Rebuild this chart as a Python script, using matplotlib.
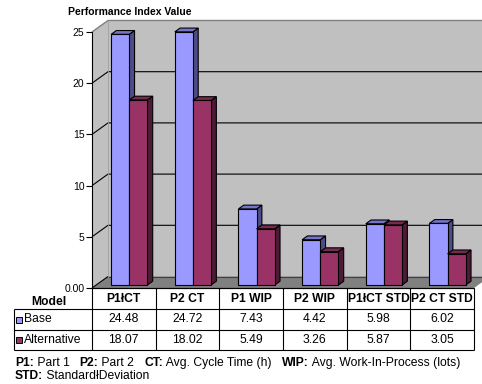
import matplotlib
matplotlib.use("Agg")
import matplotlib.pyplot as plt
from matplotlib.patches import Polygon, Rectangle
from matplotlib.lines import Line2D

# ---- data ----
categories = ["P1łCT", "P2 CT", "P1 WIP", "P2 WIP", "P1łCT STD", "P2 CT STD"]
series_names = ["Base", "Alternative"]
base_values = [24.48, 24.72, 7.43, 4.42, 5.98, 6.02]
alt_values = [18.07, 18.02, 5.49, 3.26, 5.87, 3.05]
y_ticks = [0, 5, 10, 15, 20, 25]
y_tick_labels = ["0.00", "5", "10", "15", "20", "25"]
title = "Performance Index Value"
row_header = "Model"
footnote_lines = [
    [("P1:", True), (" Part 1   ", False), ("P2:", True), (" Part 2   ", False),
     ("CT:", True), (" Avg. Cycle Time (h)   ", False),
     ("WIP:", True), (" Avg. Work-In-Process (lots)", False)],
    [("STD:", True), (" StandardłDeviation", False)],
]

# ---- style ----
plt.rcParams['font.family'] = ['Liberation Sans', 'DejaVu Sans']
face_cols = ["#9999FF", "#993366"]
side_cols = ["#4C4C86", "#4F1A35"]
top_cols = ["#7474C8", "#7A2852"]
wall_col = "#C0C0C0"
floor_col = "#808080"
TABLE_FS = 8.7

W, H = 482, 384
fig = plt.figure(figsize=(W / 100, H / 100), dpi=100)

X0, X1 = 92, 474      # front plane, left/right pixel columns
Y0, Y1 = 288, 32      # front plane, pixel rows of 0 and 25
ymax = 25
n = len(categories)
ax = fig.add_axes([X0 / W, 1 - Y0 / H, (X1 - X0) / W, (Y0 - Y1) / H])
ax.set_xlim(0, n)
ax.set_ylim(0, ymax)
ax.patch.set_visible(False)

px_x = (X1 - X0) / n
px_y = (Y0 - Y1) / ymax
DX = 16 / px_x        # depth offset in data units
DY = 11.5 / px_y


def add_poly(pts, fc, ec="none", lw=0.0, z=1):
    ax.add_patch(Polygon(pts, closed=True, facecolor=fc, edgecolor=ec,
                         linewidth=lw, clip_on=False, zorder=z,
                         joinstyle="miter"))


def add_line(xs, ys, color="black", lw=0.8, z=2):
    ax.add_line(Line2D(xs, ys, color=color, linewidth=lw, clip_on=False,
                       zorder=z, solid_capstyle="butt"))


# walls and floor
add_poly([(DX, DY), (n + DX, DY), (n + DX, ymax + DY), (DX, ymax + DY)], wall_col)
add_poly([(0, 0), (DX, DY), (DX, ymax + DY), (0, ymax)], wall_col)
add_poly([(0, 0), (n, 0), (n + DX, DY), (DX, DY)], floor_col)

# gridlines on side and back walls
for v in y_ticks:
    if v == ymax:
        add_line([0, DX, n + DX], [v, v + DY, v + DY], color="#808080", lw=1.0)
    elif v == 0:
        add_line([0, DX], [0, DY], color="black", lw=0.8)
        add_line([DX, n + DX], [DY, DY], color="#404040", lw=0.8)
    else:
        add_line([0, DX, n + DX], [v, v + DY, v + DY], color="black", lw=0.8)
add_line([DX, DX], [DY, ymax + DY], color="#A0A0A0", lw=0.6)
add_line([0, n], [0, 0], color="black", lw=0.8, z=6)

# 3D bars
center, bw = 0.52, 0.285
f0, f1 = 0.26, 0.59
for i in range(n):
    for j, vals in enumerate([base_values, alt_values]):
        v = vals[i]
        xl = i + center - bw + j * bw
        xr = xl + bw
        a0x, a0y = f0 * DX, f0 * DY
        a1x, a1y = f1 * DX, f1 * DY
        add_poly([(xr + a0x, a0y), (xr + a1x, a1y), (xr + a1x, v + a1y), (xr + a0x, v + a0y)],
                 side_cols[j], "black", 0.8, 3)
        add_poly([(xl + a0x, v + a0y), (xr + a0x, v + a0y), (xr + a1x, v + a1y), (xl + a1x, v + a1y)],
                 top_cols[j], "black", 0.8, 3)
        add_poly([(xl + a0x, a0y), (xr + a0x, a0y), (xr + a0x, v + a0y), (xl + a0x, v + a0y)],
                 face_cols[j], "black", 0.8, 3)

# value axis
for s in ["top", "right", "bottom"]:
    ax.spines[s].set_visible(False)
ax.spines["left"].set_linewidth(0.8)
ax.spines["left"].set_zorder(6)
ax.set_yticks(y_ticks)
ax.set_yticklabels(y_tick_labels)
ax.set_xticks([])
ax.tick_params(axis="y", direction="out", length=4, width=0.8, pad=1.5,
               labelsize=7.5, colors="black")

# title
fig.text(130 / W, 1 - 12 / H, title, fontsize=7.5, fontweight="bold",
         ha="center", va="center")


# ---- data table below the chart ----
def fx(x):
    return x / W


def fy(y):
    return 1 - y / H


def fline(x0, y0, x1, y1):
    fig.add_artist(Line2D([fx(x0), fx(x1)], [fy(y0), fy(y1)], color="black",
                          linewidth=0.8, transform=fig.transFigure,
                          solid_capstyle="butt"))


TL = 14
rows = [288, 309, 330, 350]
col_x = [X0 + k * px_x for k in range(n + 1)]
for cx in col_x:
    fline(cx, rows[0], cx, rows[-1])
fline(TL, rows[1], TL, rows[-1])
fline(X0, rows[0], X1, rows[0])
for ry in rows[1:]:
    fline(TL, ry, X1, ry)

fig.text(fx(49), fy(302), row_header, fontsize=TABLE_FS, fontweight="bold",
         ha="center", va="center")
for k, cat in enumerate(categories):
    cxm = (col_x[k] + col_x[k + 1]) / 2
    fig.text(fx(cxm), fy(299), cat, fontsize=TABLE_FS, fontweight="bold",
             ha="center", va="center")

for r, (name, vals) in enumerate(zip(series_names, [base_values, alt_values])):
    ymid = (rows[r + 1] + rows[r + 2]) / 2
    fig.add_artist(Rectangle((fx(16), fy(ymid + 3)), 6 / W, 6 / H,
                             facecolor=face_cols[r], edgecolor="black",
                             linewidth=0.7, transform=fig.transFigure))
    fig.text(fx(24), fy(ymid), name, fontsize=TABLE_FS, ha="left", va="center")
    for k, v in enumerate(vals):
        cxm = (col_x[k] + col_x[k + 1]) / 2
        fig.text(fx(cxm), fy(ymid), f"{v:.2f}", fontsize=TABLE_FS,
                 ha="center", va="center")

# footnotes with bold keys
for li, parts in enumerate(footnote_lines):
    yb = [363, 376][li]
    prev = None
    for txt, bold in parts:
        kw = dict(fontsize=TABLE_FS, fontweight="bold" if bold else "normal",
                  va="center", ha="left")
        if prev is None:
            prev = fig.text(fx(15), fy(yb), txt, **kw)
        else:
            prev = ax.annotate(txt, xy=(1, 0.5), xycoords=prev,
                               annotation_clip=False, **kw)

fig.savefig("out.png", dpi=100)
